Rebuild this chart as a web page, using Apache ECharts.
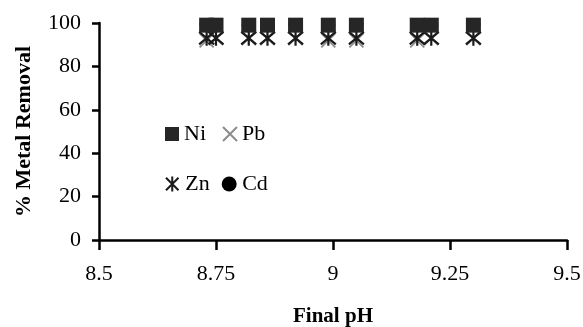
<!DOCTYPE html>
<html>
<head>
<meta charset="utf-8">
<script src="https://cdn.jsdelivr.net/npm/echarts@6/dist/echarts.min.js"></script>
<style>
  html, body { margin: 0; padding: 0; background: #fff; }
  #chart { width: 583px; height: 327px; }
</style>
</head>
<body>
<div id="chart"></div>
<script>
// Final pH of each run and the metal removal measured for each metal
const finalPH = [8.73, 8.75, 8.82, 8.86, 8.92, 8.99, 9.05, 9.18, 9.21, 9.30];
const niRemoval = [99, 99, 99, 99, 99, 99, 99, 99, 99, 99];
const pbRemoval = [92, 93, 93, 93, 93, 92, 92, 92, 93, 93];
const znRemoval = [93, 93, 93, 93, 93, 93, 93, 93, 93, 93];
const cdRemoval = [99, 99, 99, 99, 99, 99, 99, 99, 99, 99];
const xTicks = [8.5, 8.75, 9, 9.25, 9.5];
const yTicks = [0, 20, 40, 60, 80, 100];

const pairs = (ys) => finalPH.map((x, i) => [x, ys[i]]);

const FONT = '"Liberation Serif", "DejaVu Serif", serif';
const crossPath = 'path://M0,0L10,10M10,0L0,10';
const starPath = 'path://M0,0L10,10M10,0L0,10M5,-1L5,11';

const legendText = { fontFamily: FONT, fontSize: 22, color: '#000', padding: [0, 0, 0, 0] };

const chart = echarts.init(document.getElementById('chart'));
chart.setOption({
  animation: false,
  backgroundColor: '#fff',
  grid: {
    left: 99, right: 16, top: 23, bottom: 87,
    containLabel: false,
    outerBoundsMode: 'none'
  },
  legend: [
    {
      data: ['Ni', 'Pb'],
      left: 160, top: 118,
      orient: 'horizontal',
      itemGap: 16, itemWidth: 14, itemHeight: 14,
      textStyle: legendText
    },
    {
      data: ['Zn', 'Cd'],
      left: 160, top: 168,
      orient: 'horizontal',
      itemGap: 12, itemWidth: 16, itemHeight: 15,
      textStyle: legendText
    }
  ],
  xAxis: {
    type: 'value',
    min: 8.5, max: 9.5, interval: 0.25,
    name: 'Final pH',
    nameLocation: 'middle',
    nameGap: 66,
    nameTextStyle: { fontFamily: FONT, fontSize: 21, fontWeight: 'bold', color: '#000' },
    axisLine: { show: true, lineStyle: { color: '#000', width: 2.5 } },
    axisTick: { show: true, length: 10, lineStyle: { color: '#000', width: 2.5 } },
    axisLabel: {
      fontFamily: FONT, fontSize: 22, color: '#000', margin: 23,
      formatter: (v) => (xTicks.includes(+v.toFixed(2)) ? String(+v.toFixed(2)) : '')
    },
    splitLine: { show: false }
  },
  yAxis: {
    type: 'value',
    min: 0, max: 100, interval: 20,
    name: '% Metal Removal',
    nameLocation: 'middle',
    nameGap: 64,
    nameTextStyle: { fontFamily: FONT, fontSize: 22, fontWeight: 'bold', color: '#000' },
    axisLine: { show: true, lineStyle: { color: '#000', width: 2.5 } },
    axisTick: { show: true, length: 7, lineStyle: { color: '#000', width: 2.5 } },
    axisLabel: {
      fontFamily: FONT, fontSize: 22, color: '#000', margin: 18,
      formatter: (v) => (yTicks.includes(v) ? String(v) : '')
    },
    splitLine: { show: false }
  },
  series: [
    {
      name: 'Cd', type: 'scatter', data: pairs(cdRemoval),
      symbol: 'circle', symbolSize: 14,
      itemStyle: { color: '#000', opacity: 1 }
    },
    {
      name: 'Pb', type: 'scatter', data: pairs(pbRemoval),
      symbol: crossPath, symbolSize: 14,
      itemStyle: { color: 'rgba(0,0,0,0)', borderColor: '#8c8c8c', borderWidth: 1.8, opacity: 1 }
    },
    {
      name: 'Zn', type: 'scatter', data: pairs(znRemoval),
      symbol: starPath, symbolSize: 15,
      itemStyle: { color: 'rgba(0,0,0,0)', borderColor: '#1a1a1a', borderWidth: 2.2, opacity: 1 }
    },
    {
      name: 'Ni', type: 'scatter', data: pairs(niRemoval),
      symbol: 'rect', symbolSize: [15, 15],
      itemStyle: { color: '#262626', opacity: 1 }
    }
  ]
});
</script>
</body>
</html>
